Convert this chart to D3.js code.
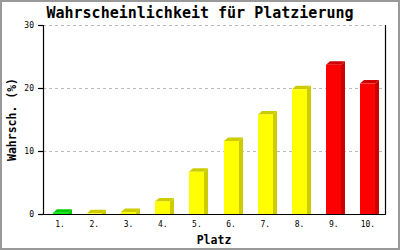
<!DOCTYPE html>
<html>
<head>
<meta charset="utf-8">
<script src="https://cdn.jsdelivr.net/npm/d3@7"></script>
<style>
  html, body { margin: 0; padding: 0; background: #fff; }
  svg { display: block; }
</style>
</head>
<body>
<div id="chart"></div>
<script>
// Bar chart: probability of each finishing place, pseudo-3D bars.
const places = ['1.', '2.', '3.', '4.', '5.', '6.', '7.', '8.', '9.', '10.'];
const probabilities = [0.2, 0.1, 0.3, 2.0, 6.7, 11.6, 15.8, 19.8, 23.7, 20.7];
const groups = ['good', 'mid', 'mid', 'mid', 'mid', 'mid', 'mid', 'mid', 'bad', 'bad'];
const yTicks = [0, 10, 20, 30];

const width = 400, height = 250;
const margin = { top: 25, right: 15, bottom: 36, left: 43 };
const depthX = 4, depthY = 3.5, barW = 15;

const palette = {
    good: { front: '#00ee00', side: '#00cc00' },
    mid: { front: '#ffff00', side: '#cccc00' },
    bad: { front: '#ff0000', side: '#cc0000' }
};

const svg = d3.select('#chart').append('svg')
    .attr('width', width)
    .attr('height', height);

// grey frame around the image
svg.append('rect')
    .attr('x', 1).attr('y', 1)
    .attr('width', width - 2).attr('height', height - 2)
    .attr('fill', '#fff')
    .attr('stroke', '#999')
    .attr('stroke-width', 2);

const x = d3.scaleBand()
    .domain(places)
    .range([margin.left, width - margin.right]);

const y = d3.scaleLinear()
    .domain([0, 30])
    .range([height - margin.bottom, margin.top]);

const mono = "'DejaVu Sans Mono', monospace";

// dashed grid
svg.append('g')
    .selectAll('line')
    .data(yTicks.filter(t => t > 0))
    .join('line')
    .attr('x1', margin.left).attr('x2', width - margin.right)
    .attr('y1', d => y(d) + 0.5).attr('y2', d => y(d) + 0.5)
    .attr('stroke', '#bbb')
    .attr('stroke-dasharray', '3,3');

// bars
const bars = svg.append('g')
    .selectAll('g')
    .data(places.map((p, i) => ({ place: p, value: probabilities[i], group: groups[i] })))
    .join('g');

const x0 = d => Math.round(x(d.place) + x.bandwidth() / 2 - barW / 2);
const y0 = y(0);

bars.append('polygon')
    .attr('fill', d => palette[d.group].side)
    .attr('points', d => {
        const xl = x0(d) + barW, yt = y(d.value);
        return [[xl, yt], [xl + depthX, yt - depthY], [xl + depthX, y0], [xl, y0]].join(' ');
    });

bars.append('polygon')
    .attr('fill', d => palette[d.group].side)
    .attr('points', d => {
        const xl = x0(d), yt = y(d.value);
        return [[xl, yt], [xl + depthX, yt - depthY], [xl + barW + depthX, yt - depthY], [xl + barW, yt]].join(' ');
    });

bars.append('rect')
    .attr('fill', d => palette[d.group].front)
    .attr('x', x0)
    .attr('y', d => y(d.value))
    .attr('width', barW)
    .attr('height', d => y0 - y(d.value));

// axes lines
const axisG = svg.append('g').attr('stroke', '#000').attr('stroke-width', 1.2);
axisG.append('line')
    .attr('x1', margin.left + 0.5).attr('x2', margin.left + 0.5)
    .attr('y1', y(30)).attr('y2', y0);
axisG.append('line')
    .attr('x1', width - margin.right + 0.5).attr('x2', width - margin.right + 0.5)
    .attr('y1', y(30)).attr('y2', y0);
axisG.append('line')
    .attr('x1', margin.left).attr('x2', width - margin.right + 1)
    .attr('y1', y0 + 0.5).attr('y2', y0 + 0.5);

// y axis ticks and labels
const yAxis = d3.axisLeft(y).tickValues(yTicks).tickSize(5).tickPadding(4);
svg.append('g')
    .attr('transform', `translate(${margin.left},0)`)
    .call(yAxis)
    .call(g => g.select('.domain').remove())
    .call(g => g.selectAll('line').attr('stroke-width', 1.2))
    .call(g => g.selectAll('text').attr('font-family', mono).attr('font-size', 8).attr('fill', '#000'));

// x tick labels
svg.append('g')
    .selectAll('text')
    .data(places)
    .join('text')
    .attr('x', d => x(d) + x.bandwidth() / 2)
    .attr('y', y0 + 13)
    .attr('text-anchor', 'middle')
    .attr('font-family', mono)
    .attr('font-size', 8)
    .text(d => d);

// title and axis titles
svg.append('text')
    .attr('x', 200).attr('y', 18)
    .attr('text-anchor', 'middle')
    .attr('font-family', mono)
    .attr('font-weight', 'bold')
    .attr('font-size', 15)
    .text('Wahrscheinlichkeit für Platzierung');

svg.append('text')
    .attr('x', (margin.left + width - margin.right) / 2)
    .attr('y', 244)
    .attr('text-anchor', 'middle')
    .attr('font-family', mono)
    .attr('font-weight', 'bold')
    .attr('font-size', 11.5)
    .text('Platz');

svg.append('text')
    .attr('transform', `translate(16,${(y(30) + y0) / 2}) rotate(-90)`)
    .attr('text-anchor', 'middle')
    .attr('font-family', mono)
    .attr('font-weight', 'bold')
    .attr('font-size', 11.5)
    .text('Wahrsch. (%)');
</script>
</body>
</html>
